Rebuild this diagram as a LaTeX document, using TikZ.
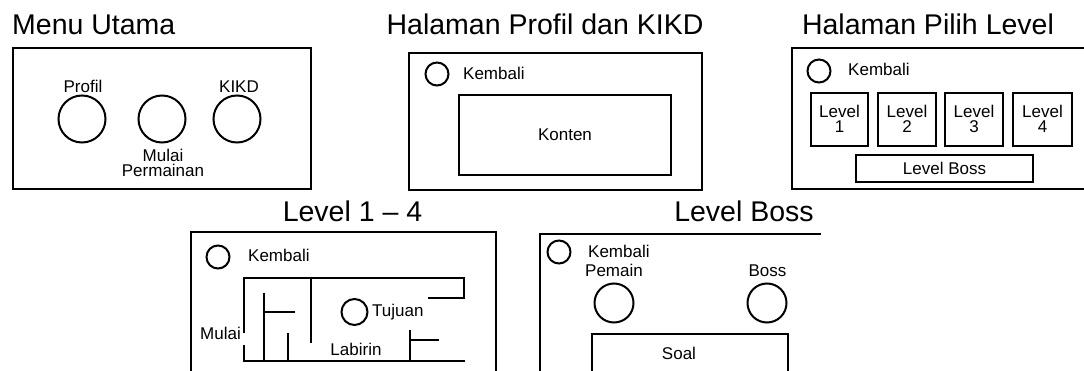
\documentclass[tikz,border=0pt]{standalone}
\usepackage{fontspec}
\setmainfont{Liberation Sans}
\begin{document}
\begin{tikzpicture}[x=1pt,y=-1pt,
  frame/.style={line width=2pt},
  wall/.style={line width=2pt},
  btn/.style={circle,draw,line width=2pt,inner sep=0pt,minimum size=#1},
  ttl/.style={font=\fontsize{28.5}{30}\selectfont,inner sep=0pt},
  lbl/.style={font=\fontsize{17}{15}\selectfont,inner sep=0pt,align=center},
  boxed/.style={draw,line width=2pt,lbl}]
\useasboundingbox (0,0) rectangle (1084,371);
\clip (0,0) rectangle (1084,371);

% page titles
\node[ttl,anchor=base west] (tMenu)   at (12,35)    {Menu Utama};
\node[ttl,anchor=base]      (tProfil) at (545,35)   {Halaman Profil dan KIKD};
\node[ttl,anchor=base]      (tPilih)  at (928,35)   {Halaman Pilih Level};
\node[ttl,anchor=base]      (tLevel)  at (352.5,222) {Level 1 -- 4};
\node[ttl,anchor=base]      (tBoss)   at (744,222)  {Level Boss};

% main menu
\draw[frame] (13,48) rectangle (311,189);
\node[btn=47pt] (bProfil) at (82,119)  {};
\node[btn=47pt] (bMulai)  at (162,119) {};
\node[btn=47pt] (bKIKD)   at (237,119) {};
\node[lbl,anchor=base] (lProfil) at (83,93)  {Profil};
\node[lbl,anchor=base] (lKIKD)   at (239,93) {KIKD};
\node[lbl] (lMulai) at (163,162.5) {Mulai\\Permainan};

% profile and KIKD page
\draw[frame] (409,53) rectangle (702,190);
\node[btn=23pt] (back1) at (437,74) {};
\node[lbl,anchor=base west] (lBack1) at (463,80) {Kembali};
\node[boxed,minimum width=212pt,minimum height=80pt] (konten) at (565,135) {Konten};

% level selection page
\draw[frame] (1090,48) -- (792,48) -- (792,189) -- (1090,189);
\node[btn=23pt] (back2) at (819,71) {};
\node[lbl,anchor=base west] (lBack2) at (848,76) {Kembali};
\node[boxed,minimum width=57pt,minimum height=53.5pt] (lv1) at (839.5,119.3) {Level\\1};
\node[boxed,minimum width=58pt,minimum height=53.5pt] (lv2) at (907,119.3)   {Level\\2};
\node[boxed,minimum width=58pt,minimum height=53.5pt] (lv3) at (974,119.3)   {Level\\3};
\node[boxed,minimum width=59pt,minimum height=53.5pt] (lv4) at (1042.5,119.3) {Level\\4};
\node[boxed,minimum width=177pt,minimum height=27pt] (lvBoss) at (944.5,168.5) {Level Boss};

% level 1-4 page
\draw[frame] (191,380) -- (191,232) -- (496,232) -- (496,380);
\node[btn=23pt] (back3) at (218,257) {};
\node[lbl,anchor=base west] (lBack3) at (248,262) {Kembali};
% maze walls
\draw[wall] (244,333) -- (244,278) -- (464,278) -- (464,298) -- (428,298);
\draw[wall] (244,345) -- (244,361) -- (465,361);
\draw[wall] (264,293) -- (264,361);
\draw[wall] (264,312) -- (295,312);
\draw[wall] (288,333) -- (288,361);
\draw[wall] (311,278) -- (311,343);
\draw[wall] (410,330) -- (410,361);
\draw[wall] (410,340) -- (439,340);
\node[btn=26pt] (goal) at (354.5,312) {};
\node[lbl,anchor=base west] (lGoal)  at (372,316.5) {Tujuan};
\node[lbl,anchor=base east] (lStart) at (241,339)   {Mulai};
\node[lbl,anchor=base]      (lMaze)  at (356,355)   {Labirin};

% boss level page
\draw[frame] (540,380) -- (540,234) -- (821,234);
\node[btn=23pt] (back4) at (559,252) {};
\node[lbl,anchor=base west] (lBack4) at (588,258) {Kembali};
\node[btn=39pt] (player) at (614,303) {};
\node[btn=39pt] (boss)   at (767,303) {};
\node[lbl,anchor=base] (lPlayer) at (614,277) {Pemain};
\node[lbl,anchor=base] (lBossC)  at (767.5,277) {Boss};
\draw[frame] (592,380) -- (592,334) -- (788,334) -- (788,380);
\node[lbl,anchor=base] (lSoal) at (679,359) {Soal};
\end{tikzpicture}
\end{document}
